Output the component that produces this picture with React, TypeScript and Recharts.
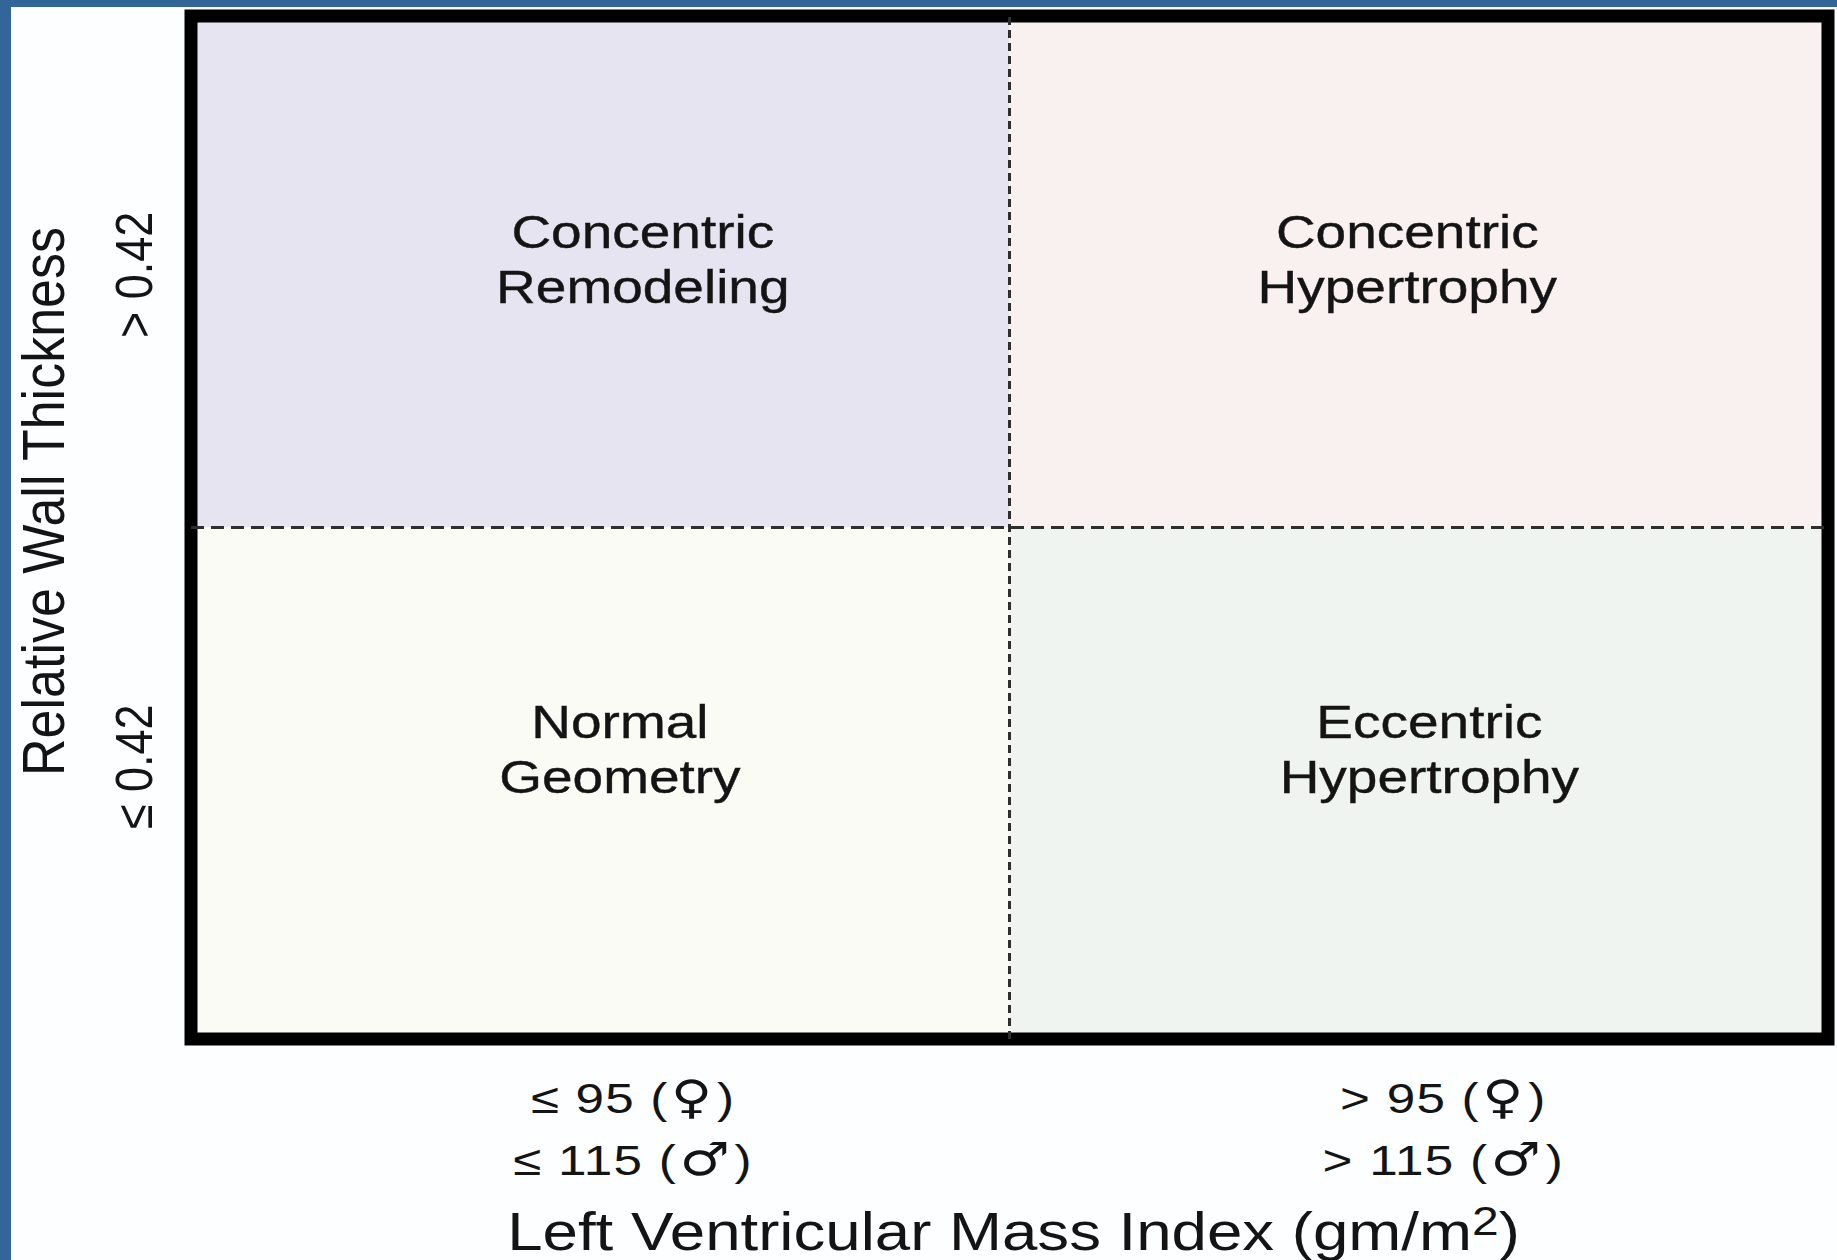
import { ScatterChart, Scatter, XAxis, YAxis, ReferenceArea, ReferenceLine } from "recharts";

// quadrant categories and where their labels sit (data units, axes run 0..2, split at 1)
const QUADRANT_LINES = [
  ["Concentric", "Remodeling"],
  ["Concentric", "Hypertrophy"],
  ["Normal", "Geometry"],
  ["Eccentric", "Hypertrophy"],
];
const LABEL_X = [0.552, 1.486, 0.524, 1.513];
const LABEL_Y = [1.524, 1.524, 0.566, 0.566];

const QUADRANT_X1 = [0, 1, 0, 1];
const QUADRANT_X2 = [1, 2, 1, 2];
const QUADRANT_Y1 = [1, 1, 0, 0];
const QUADRANT_Y2 = [2, 2, 1, 1];
const QUADRANT_COLORS = ["#e5e4f0", "#f9f1ef", "#fbfbf6", "#f0f4f0"];

const X_TICK_VALUES = [0.54, 1.53];
const X_TICK_PREFIX = [
  ["\u2264 95 ", "\u2264 115 "],
  ["> 95 ", "> 115 "],
];
const X_TICK_SYMBOLS = ["\u2640", "\u2642"];
const Y_TICK_VALUES = [0.532, 1.494];
const Y_TICK_LABELS = ["\u2264 0.42", "> 0.42"];

const X_TITLE = "Left Ventricular Mass Index (gm/m";
const Y_TITLE = "Relative Wall Thickness";

const FONT = "'Liberation Sans', Arial, sans-serif";
const SYMBOL_FONT = "'DejaVu Sans', sans-serif";
const INK = "#141414";
const STRETCH = 1.15;

const quadrants = QUADRANT_LINES.map((lines, i) => ({
  x: LABEL_X[i],
  y: LABEL_Y[i],
  lines,
}));

function QuadrantLabel(props: any) {
  const { cx, cy, payload } = props;
  if (cx == null || cy == null) return null;
  return (
    <g>
      {payload.lines.map((line: string, i: number) => (
        <text
          key={line}
          transform={`translate(${cx},${cy - 11 + i * 55}) scale(1.17,1)`}
          textAnchor="middle"
          fontFamily={FONT}
          fontSize={47}
          fill={INK}
          stroke={INK}
          strokeWidth={0.4}
        >
          {line}
        </text>
      ))}
    </g>
  );
}

function XTick(props: any) {
  const { x, y, payload } = props;
  const idx = X_TICK_VALUES.indexOf(payload.value);
  const lines = X_TICK_PREFIX[idx] || [];
  return (
    <g>
      {lines.map((line, i) => (
        <text
          key={line}
          transform={`translate(${x},${y + 74 + i * 62}) scale(1.22,1)`}
          textAnchor="middle"
          fontFamily={FONT}
          fontSize={42}
          letterSpacing={1}
          fill={INK}
          style={{ whiteSpace: "pre" }}
        >
          {line}(
          <tspan fontFamily={SYMBOL_FONT} fontSize={46} dx={2}>
            {X_TICK_SYMBOLS[i]}
          </tspan>
          <tspan dx={3}>)</tspan>
        </text>
      ))}
    </g>
  );
}

function YTick(props: any) {
  const { x, y, payload } = props;
  const idx = Y_TICK_VALUES.indexOf(payload.value);
  return (
    <text
      transform={`translate(${x - 39},${y}) scale(${STRETCH},1) rotate(-90)`}
      textAnchor="middle"
      fontFamily={FONT}
      fontSize={45}
      fill={INK}
    >
      {Y_TICK_LABELS[idx]}
    </text>
  );
}

function XTitle(props: any) {
  const { viewBox } = props;
  const cx = viewBox.x + viewBox.width / 2 + 4;
  return (
    <text
      transform={`translate(${cx},${viewBox.y + 211}) scale(1.2,1)`}
      textAnchor="middle"
      fontFamily={FONT}
      fontSize={53}
      fill={INK}
    >
      {X_TITLE}
      <tspan fontSize={40} dy={-15}>2</tspan>
      <tspan dy={15}>)</tspan>
    </text>
  );
}

function YTitle(props: any) {
  const { viewBox } = props;
  const cy = viewBox.y + viewBox.height / 2 - 26;
  return (
    <text
      transform={`translate(53,${cy}) scale(${STRETCH},1) rotate(-90)`}
      textAnchor="middle"
      fontFamily={FONT}
      fontSize={52}
      fill={INK}
    >
      {Y_TITLE}
    </text>
  );
}

export default function App() {
  return (
    <div
      style={{
        position: "absolute",
        left: 0,
        top: 0,
        width: 1837,
        height: 1260,
        boxSizing: "border-box",
        background: "#fcfeff",
        borderLeft: "11px solid #326699",
        borderTop: "7px solid #326699",
      }}
    >
      <ScatterChart
        width={1826}
        height={1253}
        margin={{ top: 9, right: 9, bottom: 0, left: 0 }}
      >
        <XAxis
          type="number"
          dataKey="x"
          domain={[0, 2]}
          ticks={X_TICK_VALUES}
          interval={0}
          axisLine={false}
          tickLine={false}
          tickSize={0}
          tickMargin={0}
          height={221}
          tick={<XTick />}
          label={{ content: <XTitle /> }}
        />
        <YAxis
          type="number"
          dataKey="y"
          domain={[0, 2]}
          ticks={Y_TICK_VALUES}
          interval={0}
          axisLine={false}
          tickLine={false}
          tickSize={0}
          tickMargin={0}
          width={180}
          tick={<YTick />}
          label={{ content: <YTitle /> }}
        />
        {QUADRANT_COLORS.map((color, i) => (
          <ReferenceArea
            key={color}
            x1={QUADRANT_X1[i]}
            x2={QUADRANT_X2[i]}
            y1={QUADRANT_Y1[i]}
            y2={QUADRANT_Y2[i]}
            fill={color}
            fillOpacity={1}
            stroke="none"
          />
        ))}
        <ReferenceLine x={1} stroke="#2e2e2e" strokeWidth={3} strokeDasharray="8 5" />
        <ReferenceLine y={1} stroke="#2e2e2e" strokeWidth={3} strokeDasharray="13 7" />
        <ReferenceArea
          x1={0}
          x2={2}
          y1={0}
          y2={2}
          fill="none"
          fillOpacity={0}
          stroke="#000"
          strokeWidth={13}
        />
        <Scatter data={quadrants} isAnimationActive={false} shape={<QuadrantLabel />} />
      </ScatterChart>
    </div>
  );
}
